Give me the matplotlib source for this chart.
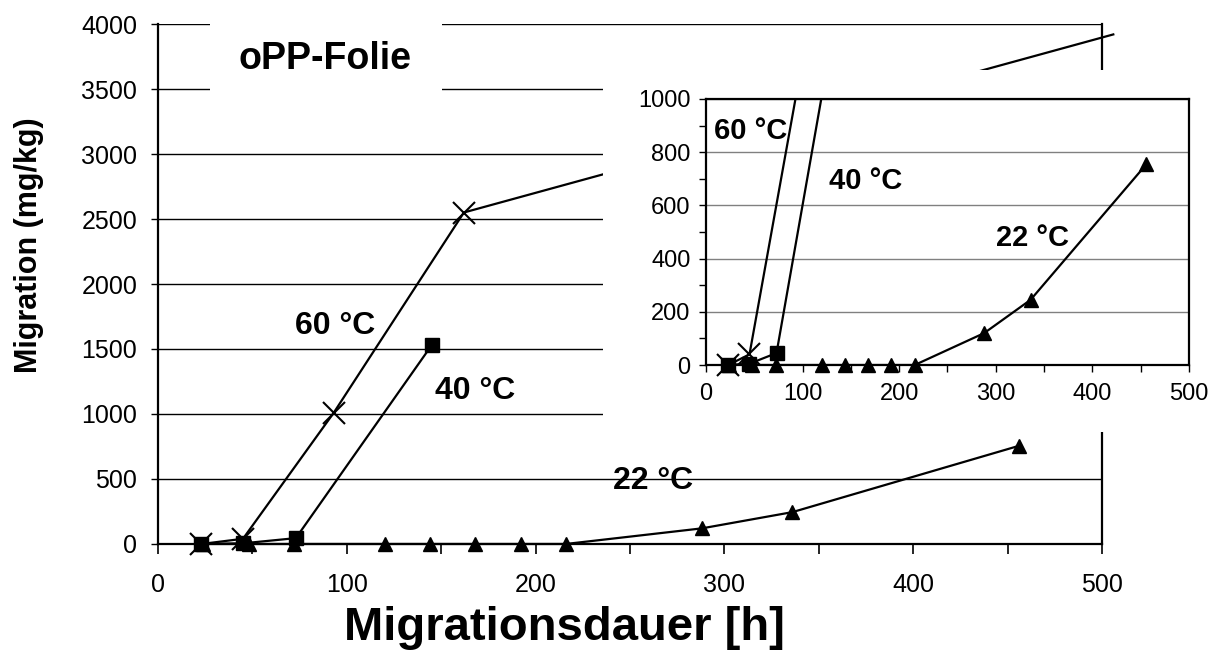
import matplotlib
matplotlib.use("Agg")
import matplotlib.pyplot as plt
from matplotlib.patches import Rectangle
from matplotlib.ticker import MultipleLocator

plt.rcParams['font.family'] = ['Liberation Sans', 'DejaVu Sans']

# migration data, oPP film
hours_60 = [23, 45, 93, 162, 506]
migr_60 = [0, 40, 1008, 2550, 3920]
hours_40 = [23, 45, 73, 145]
migr_40 = [0, 5, 45, 1530]
hours_22 = [24, 48, 72, 120, 144, 168, 192, 216, 288, 336, 456]
migr_22 = [0, 0, 0, 0, 0, 0, 0, 0, 120, 245, 755]

labels_main = {"60 °C": (94, 1677), "40 °C": (168, 1177), "22 °C": (262, 485)}
labels_inset = {"60 °C": (46, 878), "40 °C": (165, 690), "22 °C": (338, 477)}

series = [
    (hours_22, migr_22, dict(marker="^", ms=10), 3),
    (hours_40, migr_40, dict(marker="s", ms=10), 4),
    (hours_60, migr_60, dict(marker="x", ms=16, mew=1.5), 5),
]


def draw_series(ax, xmax, ymax, clip_lines):
    for xs, ys, mk, z in series:
        ax.plot(xs, ys, color="black", lw=1.6, zorder=z, clip_on=clip_lines)
        pts = [(x, y) for x, y in zip(xs, ys) if x <= xmax and y <= ymax]
        ax.plot([p[0] for p in pts], [p[1] for p in pts], ls="none", color="black",
                zorder=z, clip_on=False, **mk)


fig = plt.figure(figsize=(12.27, 6.71), dpi=100)

ax = fig.add_axes([0.1288, 0.1893, 0.7693, 0.7749])
draw_series(ax, 500, 4000, False)
ax.set_xlim(0, 500)
ax.set_ylim(0, 4000)
ax.xaxis.set_major_locator(MultipleLocator(100))
ax.xaxis.set_minor_locator(MultipleLocator(50))
ax.yaxis.set_major_locator(MultipleLocator(500))
ax.grid(axis="y", color="black", lw=1)
ax.set_axisbelow(True)
ax.spines["top"].set_visible(False)
for s in ["left", "bottom", "right"]:
    ax.spines[s].set_linewidth(1.6)
ax.tick_params(axis="x", which="both", direction="out", length=7, width=1.2,
               labelsize=18, pad=14)
ax.tick_params(axis="y", direction="out", length=5, width=1, labelsize=18, pad=10)
ax.set_xlabel("Migrationsdauer [h]", fontsize=34, fontweight="bold")
ax.xaxis.set_label_coords(0.431, -0.119)
ax.set_ylabel("Migration (mg/kg)", fontsize=22, fontweight="bold")
ax.yaxis.set_label_coords(-0.121, 0.574)
for txt, (x, y) in labels_main.items():
    ax.text(x, y, txt, fontsize=23, fontweight="bold", ha="center", va="center", zorder=6)

# white boxes behind the title and the inset
fig.add_artist(Rectangle((0.1711, 0.851), 0.189, 0.134, transform=fig.transFigure,
                         facecolor="white", edgecolor="none", zorder=1))
fig.add_artist(Rectangle((0.4914, 0.3562), 0.5086, 0.5395, transform=fig.transFigure,
                         facecolor="white", edgecolor="none", zorder=1))
fig.text(0.2649, 0.912, "oPP-Folie", fontsize=27, fontweight="bold",
         ha="center", va="center", zorder=3)

ins = fig.add_axes([0.5754, 0.456, 0.3936, 0.3965])
ins.set_zorder(2)
draw_series(ins, 500, 1000, True)
ins.set_xlim(0, 500)
ins.set_ylim(0, 1000)
ins.xaxis.set_major_locator(MultipleLocator(100))
ins.xaxis.set_minor_locator(MultipleLocator(50))
ins.yaxis.set_major_locator(MultipleLocator(200))
ins.yaxis.set_minor_locator(MultipleLocator(100))
ins.grid(axis="y", color="#808080", lw=1)
ins.set_axisbelow(True)
for s in ins.spines.values():
    s.set_linewidth(1.6)
ins.tick_params(which="both", direction="out", length=5, width=1, labelsize=17)
ins.tick_params(axis="x", pad=8)
ins.tick_params(axis="y", pad=6)
for txt, (x, y) in labels_inset.items():
    ins.text(x, y, txt, fontsize=21, fontweight="bold", ha="center", va="center", zorder=6)

fig.savefig("out.png", dpi=100)
